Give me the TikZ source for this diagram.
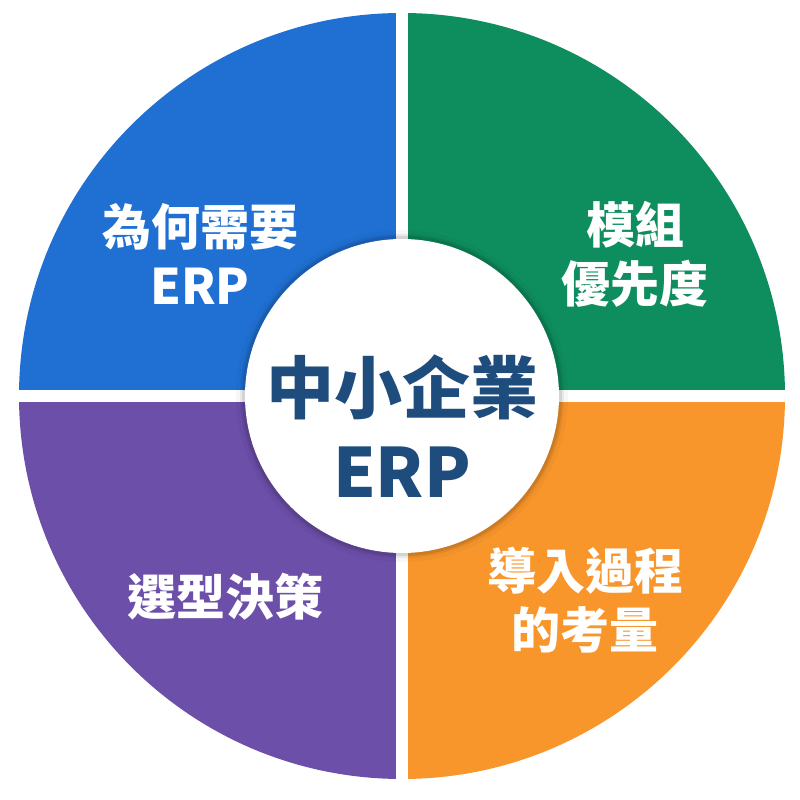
\documentclass[tikz,border=0pt]{standalone}
\usepackage{fontspec}
\newfontfamily\cjk{Noto Sans CJK TC}
\usetikzlibrary{positioning,calc}
\definecolor{qblue}{HTML}{1F70D2}
\definecolor{qgreen}{HTML}{0E8E5E}
\definecolor{qorange}{HTML}{F8962C}
\definecolor{qpurple}{HTML}{6C4FA9}
\definecolor{hubtext}{HTML}{1E4C7C}

\begin{document}
\begin{tikzpicture}[x=1pt, y=1pt,
    quadtext/.style={text=white, font=\cjk\bfseries\fontsize{49}{59}\selectfont, align=center},
    hubfont/.style={text=hubtext, font=\cjk\bfseries\fontsize{68}{84}\selectfont, align=center}]
    \useasboundingbox (0,0) rectangle (800,800);
    \coordinate (c) at (402,404);
    
    %Quadrants
    \fill[qblue]   (c) -- +(180:383) arc (180:90:383) -- cycle;
    \fill[qgreen]  (c) -- +(90:383) arc (90:0:383) -- cycle;
    \fill[qorange] (c) -- +(0:383) arc (0:-90:383) -- cycle;
    \fill[qpurple] (c) -- +(-90:383) arc (-90:-180:383) -- cycle;
    
    %Gaps
    \draw[white, line width=12] ($(c)+(-390,0)$) -- ++(780,0);
    \draw[white, line width=12] ($(c)+(0,-390)$) -- ++(0,780);
    
    %Hub
    \foreach \r/\o in {166/0.03, 162/0.06, 160/0.09} {
        \fill[black, opacity=\o] (c) circle (\r);
    }
    \fill[white] (c) circle (157);
    
    %Text
    \node[quadtext] (why) at (200,546) {為何需要\\ERP};
    \node[quadtext] (mod) at (635,546) {模組\\優先度};
    \node[quadtext] (sel) at (225,203) {選型決策};
    \node[quadtext] (imp) at (585,200) {導入過程\\的考量};
    \node[hubfont] (hub) at (402,374) {中小企業\\ERP};
\end{tikzpicture}
\end{document}
